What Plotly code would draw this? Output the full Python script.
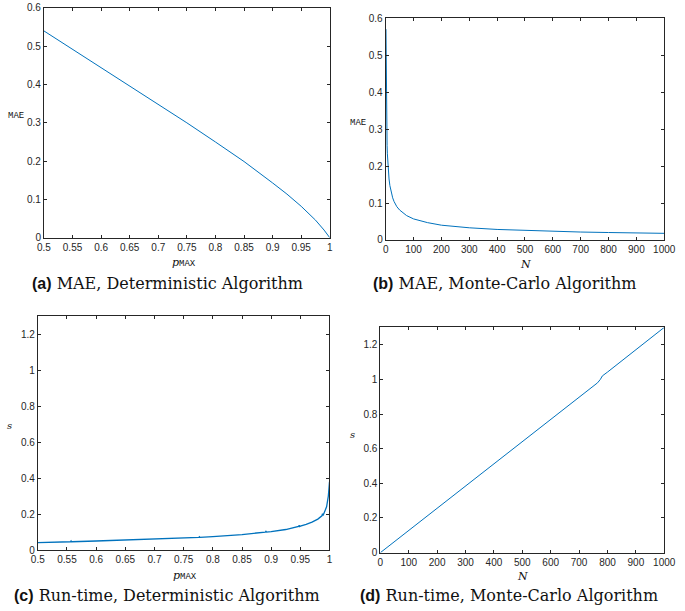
import plotly.graph_objects as go

W, H = 685, 611

# (a) MAE vs p_MAX, deterministic algorithm
pmax_a = [0.5, 0.55, 0.6, 0.65, 0.7, 0.75, 0.8, 0.85, 0.9, 0.925, 0.95, 0.975, 0.99, 1.0]
mae_a = [0.540, 0.492, 0.444, 0.397, 0.349, 0.300, 0.250, 0.199, 0.143, 0.114, 0.082, 0.046, 0.020, 0.0]

# (b) MAE vs N, Monte-Carlo algorithm
n_b = [1, 2, 3, 4, 5, 6, 8, 10, 12, 15, 20, 25, 30, 40, 50, 60, 75, 100, 125, 150,
       200, 250, 300, 400, 500, 600, 700, 800, 900, 1000]
mae_b = [0.57, 0.40, 0.33, 0.285, 0.255, 0.233, 0.202, 0.180, 0.165, 0.147, 0.128, 0.114,
         0.104, 0.090, 0.081, 0.074, 0.066, 0.057, 0.051, 0.047, 0.040, 0.036, 0.033,
         0.0285, 0.0255, 0.0233, 0.0215, 0.0202, 0.019, 0.018]

# (c) run-time vs p_MAX, deterministic algorithm
pmax_c = [0.5, 0.55, 0.556, 0.557, 0.558, 0.6, 0.65, 0.7, 0.75, 0.776, 0.777, 0.778, 0.8,
          0.85, 0.89, 0.891, 0.892, 0.9, 0.925, 0.947, 0.948, 0.949, 0.95, 0.96, 0.97,
          0.98, 0.985, 0.987, 0.988, 0.989, 0.99, 0.995, 0.998, 1.0]
time_c = [0.041, 0.046, 0.046, 0.051, 0.046, 0.050, 0.055, 0.061, 0.067, 0.070, 0.074,
          0.070, 0.074, 0.086, 0.100, 0.104, 0.100, 0.102, 0.114, 0.131, 0.138, 0.131,
          0.133, 0.143, 0.155, 0.172, 0.185, 0.190, 0.202, 0.192, 0.200, 0.240, 0.300, 0.380]

# (d) run-time vs N, Monte-Carlo algorithm
n_d = [0, 100, 200, 300, 400, 500, 600, 700, 750, 765, 775, 782, 800, 900, 1000]
time_d = [0.0, 0.128, 0.256, 0.384, 0.512, 0.640, 0.770, 0.898, 0.960, 0.980, 1.000,
          1.020, 1.042, 1.171, 1.300]

LINE = "#0072BD"
AXC = "#262626"
TICKFONT = dict(family="Liberation Sans, Arial, sans-serif", size=10, color=AXC)


def px_dom(a, b, total, flip=False):
    if flip:
        return [1 - b / total, 1 - a / total]
    return [a / total, b / total]


panels = [
    dict(xd=(38, 332), yd=(3, 237), xr=[0.5, 1], yr=[0, 0.6], dx=0.05, dy=0.1,
         x=pmax_a, y=mae_a, w=1.0),
    dict(xd=(389.5, 676), yd=(13.3, 239.3), xr=[0, 1000], yr=[0, 0.6], dx=100, dy=0.1,
         x=n_b, y=mae_b, w=1.0),
    dict(xd=(31.7, 331.7), yd=(317, 555), xr=[0.5, 1], yr=[0, 1.3], dx=0.05, dy=0.2,
         x=pmax_c, y=time_c, w=1.3),
    dict(xd=(384, 676), yd=(328.3, 557.7), xr=[0, 1000], yr=[0, 1.3], dx=100, dy=0.2,
         x=n_d, y=time_d, w=1.0),
]

fig = go.Figure()
layout = {}
for i, p in enumerate(panels):
    k = "" if i == 0 else str(i + 1)
    fig.add_trace(go.Scatter(x=p["x"], y=p["y"], mode="lines",
                             line=dict(color=LINE, width=p["w"]),
                             xaxis="x" + k, yaxis="y" + k, showlegend=False))
    common = dict(showline=True, linecolor=AXC, linewidth=1, mirror="ticks",
                  ticks="inside", ticklen=3, tickcolor=AXC, tickwidth=1,
                  showgrid=False, zeroline=False, tickfont=TICKFONT)
    layout["xaxis" + k] = dict(domain=px_dom(*p["xd"], W), range=p["xr"], dtick=p["dx"],
                               tick0=0, anchor="y" + k, **common)
    layout["yaxis" + k] = dict(domain=px_dom(*p["yd"], H, flip=True), range=p["yr"],
                               dtick=p["dy"], tick0=0, anchor="x" + k, **common)

fig.update_layout(width=W, height=H, margin=dict(l=0, r=0, t=0, b=0),
                  plot_bgcolor="white", paper_bgcolor="white", **layout)

MONO = "Liberation Mono, Courier New, monospace"
SERIF = "DejaVu Serif, serif"
SANS = "Liberation Sans, Arial, sans-serif"


def ann(text, x, y, size=10, family=SERIF, xanchor="center"):
    fig.add_annotation(text=text, x=x / W, y=1 - y / H, xref="paper", yref="paper",
                       showarrow=False, xanchor=xanchor, yanchor="middle",
                       font=dict(family=family, size=size, color="#111111"))


pmax_label = ("<i>p</i><span style='font-family:Liberation Mono, monospace;"
              "font-size:9px'>MAX</span>")
# axis titles
ann("MAE", 9, 113, size=9, family=MONO)
ann(pmax_label, 182, 262, size=11)
ann("MAE", 361, 120, size=9, family=MONO)
ann("<i>N</i>", 533, 264, size=11)
ann("<i>s</i>", 3, 428, size=10)
ann(pmax_label, 183, 581, size=11)
ann("<i>s</i>", 355, 437, size=10)
ann("<i>N</i>", 530, 582, size=11)


def caption(letter, text):
    return (f"<span style='font-family:{SANS}'><b>({letter})</b></span> {text}")


ann(caption("a", "MAE, Deterministic Algorithm"), 165, 284, size=16)
ann(caption("b", "MAE, Monte-Carlo Algorithm"), 512, 284, size=16)
ann(caption("c", "Run-time, Deterministic Algorithm"), 165, 601, size=16)
ann(caption("d", "Run-time, Monte-Carlo Algorithm"), 516, 601, size=16)

fig.write_html("out.html", config={"displayModeBar": False},
               post_script="document.body.style.margin='0';document.body.style.overflow='hidden';")
